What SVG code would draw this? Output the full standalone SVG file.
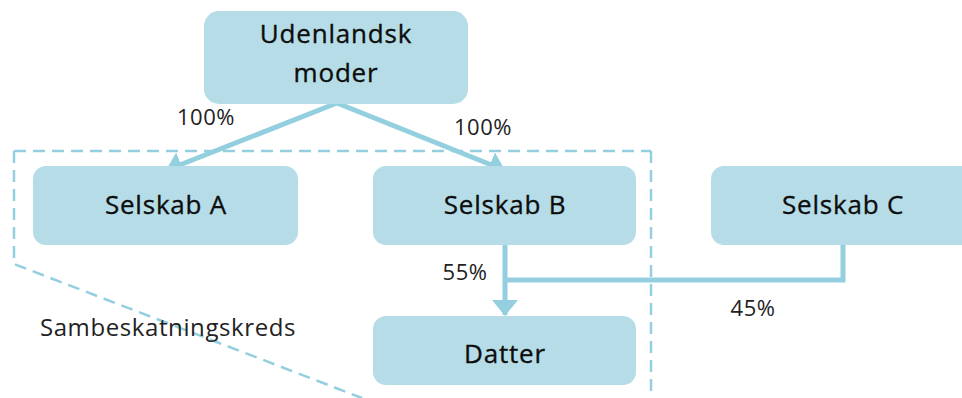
<svg xmlns="http://www.w3.org/2000/svg" width="962" height="398" viewBox="0 0 962 398">
<style>
.node rect{fill:#b6dde7;}
.lbl{font-family:"Open Sans","Liberation Sans",sans-serif;font-size:26px;font-weight:400;letter-spacing:0.8px;fill:#0d0d0d;stroke:#0d0d0d;stroke-width:0.35px;text-anchor:middle;}
.pct{font-family:"Open Sans","Liberation Sans",sans-serif;font-size:22px;letter-spacing:0.5px;fill:#222;text-anchor:middle;}
.cap{font-family:"Open Sans","Liberation Sans",sans-serif;font-size:24px;letter-spacing:0.6px;fill:#222;text-anchor:middle;}
.conn{stroke:#93cfdf;stroke-width:5;fill:none;}
.dash{stroke:#93cfdf;stroke-width:2.5;fill:none;stroke-dasharray:12 7;}
</style>
<defs>
<marker id="ah" viewBox="0 0 16 26" refX="15" refY="13" markerWidth="16" markerHeight="26" orient="auto" markerUnits="userSpaceOnUse">
<path d="M0,0 L16,13 L0,26 z" fill="#93cfdf"/>
</marker>
</defs>
<g id="boundary">
<path class="dash" d="M14,151 H651 M14,151 V264 L362,398 M651,151 V398"/>
<text class="cap" x="168" y="336">Sambeskatningskreds</text>
</g>
<g id="connectors">
<path class="conn" d="M337,103 L167,170" marker-end="url(#ah)"/>
<path class="conn" d="M337,103 L504,170" marker-end="url(#ah)"/>
<path class="conn" d="M505,245 V315" marker-end="url(#ah)"/>
<path class="conn" d="M505,280 H843 V245"/>
<text class="pct" x="206" y="125">100%</text>
<text class="pct" x="483" y="135">100%</text>
<text class="pct" x="465" y="280">55%</text>
<text class="pct" x="753" y="316">45%</text>
</g>
<g id="moder" class="node">
<rect x="204" y="11" width="264" height="93" rx="15"/>
<text class="lbl" x="336" y="43">Udenlandsk</text>
<text class="lbl" x="336" y="82">moder</text>
</g>
<g id="selskabA" class="node">
<rect x="33" y="166" width="265" height="79" rx="13"/>
<text class="lbl" x="166" y="214">Selskab A</text>
</g>
<g id="selskabB" class="node">
<rect x="373" y="166" width="263" height="79" rx="13"/>
<text class="lbl" x="505" y="214">Selskab B</text>
</g>
<g id="selskabC" class="node">
<rect x="711" y="166" width="265" height="79" rx="13"/>
<text class="lbl" x="843" y="214">Selskab C</text>
</g>
<g id="datter" class="node">
<rect x="373" y="316" width="263" height="69" rx="13"/>
<text class="lbl" x="505" y="363">Datter</text>
</g>
</svg>
